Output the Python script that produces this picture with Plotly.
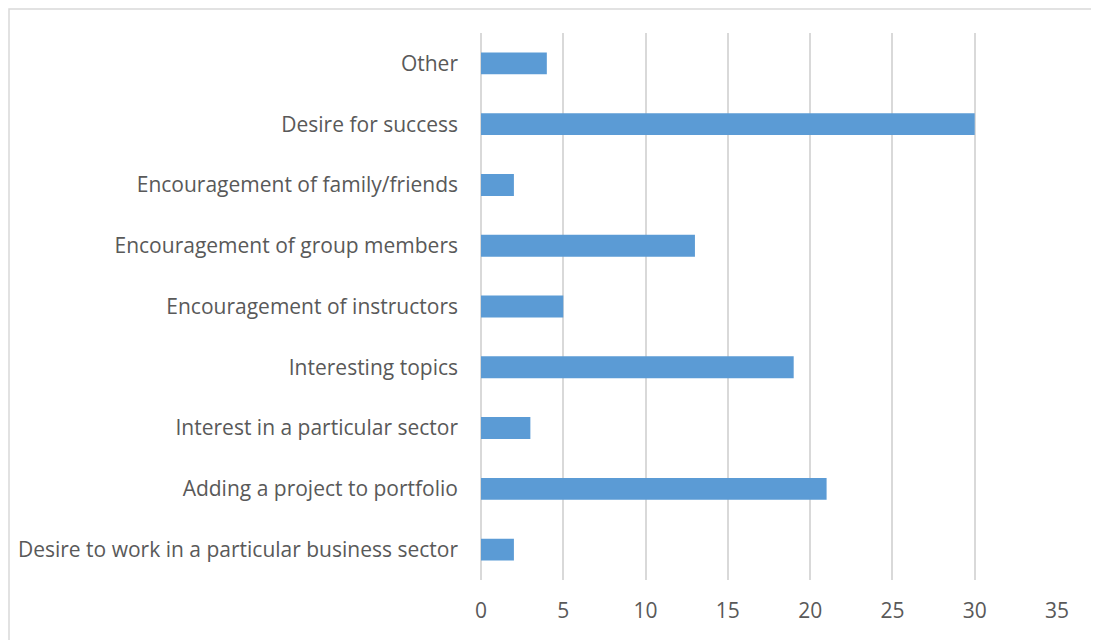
import plotly.graph_objects as go

# categories bottom to top, as they appear in the chart
reasons = [
    "Desire to work in a particular business sector",
    "Adding a project to portfolio",
    "Interest in a particular sector",
    "Interesting topics",
    "Encouragement of instructors",
    "Encouragement of group members",
    "Encouragement of family/friends",
    "Desire for success",
    "Other",
]
counts = [2, 21, 3, 19, 5, 13, 2, 30, 4]
x_ticks = [0, 5, 10, 15, 20, 25, 30, 35]

# page body adds an 8px margin, so the figure is a bit smaller than the window
W, H = 1091, 632
L, R, T, B = 473, 42, 25, 60
pw, ph = W - L - R, H - T - B

fig = go.Figure()
fig.add_trace(go.Bar(
    x=counts, y=reasons, orientation="h",
    marker=dict(color="#5B9BD5", line=dict(width=0)),
))

fig.update_layout(
    width=W, height=H,
    margin=dict(l=L, r=R, t=T, b=B, autoexpand=False),
    plot_bgcolor="white", paper_bgcolor="white",
    bargap=0.64,
    showlegend=False,
    font=dict(family="Open Sans", size=21, color="#595959"),
    xaxis=dict(
        range=[0, 35], tickvals=x_ticks, showgrid=True,
        gridcolor="#D9D9D9", gridwidth=1.5,
        zeroline=True, zerolinecolor="#D9D9D9", zerolinewidth=1.5,
        showline=False, ticks="", ticklabelstandoff=16,
    ),
    yaxis=dict(
        showgrid=False, showline=False, ticks="",
        ticklabelstandoff=22,
    ),
    shapes=[dict(
        type="rect", xref="paper", yref="paper",
        x0=(1 - L) / pw, x1=(W - 1 - L) / pw,
        y0=-(B + 20) / ph, y1=1 + (T - 1) / ph,
        line=dict(color="#D9D9D9", width=1.5), layer="below",
    )],
)

fig.write_html("out.html")
